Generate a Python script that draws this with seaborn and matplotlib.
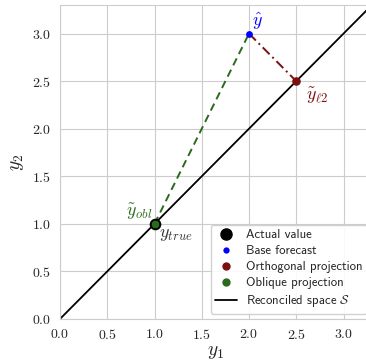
import matplotlib
matplotlib.use("Agg")
import matplotlib.pyplot as plt
import seaborn as sns
from matplotlib.lines import Line2D

# puntos del ejemplo
y_true = [1.0, 1.0]
y_hat = [2.0, 3.0]
y_l2 = [2.5, 2.5]
y_obl = [1.0, 1.0]
space_x = [0.0, 3.5]
space_y = [0.0, 3.5]

ticks = [0.0, 0.5, 1.0, 1.5, 2.0, 2.5, 3.0]
green = "#2a6a1c"
red = "#7a1010"

sns.set_style("whitegrid")
plt.rcParams["font.family"] = ["cmr10"]
plt.rcParams["axes.formatter.use_mathtext"] = True
plt.rcParams["mathtext.fontset"] = "cm"

fig = plt.figure(figsize=(3.66, 3.62), dpi=100)
ax = fig.add_axes([0.164, 0.119, 0.852, 0.867])

# espacio reconciliado y = x
sns.lineplot(x=space_x, y=space_y, color="black", lw=1.3, ax=ax)
# proyeccion oblicua
sns.lineplot(x=[y_obl[0], y_hat[0]], y=[y_obl[1], y_hat[1]], color=green,
             lw=1.4, ax=ax, linestyle=(0, (4, 2.5)))
# proyeccion ortogonal
sns.lineplot(x=[y_hat[0], y_l2[0]], y=[y_hat[1], y_l2[1]], color=red,
             lw=1.4, ax=ax, linestyle=(0, (5, 2, 1, 2)))

sns.scatterplot(x=[y_true[0]], y=[y_true[1]], color="black", s=70, ax=ax, zorder=5, linewidth=0)
sns.scatterplot(x=[y_obl[0]], y=[y_obl[1]], color=green, s=38, ax=ax, zorder=6,
                edgecolor="black", linewidth=0.6)
sns.scatterplot(x=[y_hat[0]], y=[y_hat[1]], color="blue", s=24, ax=ax, zorder=6, linewidth=0)
sns.scatterplot(x=[y_l2[0]], y=[y_l2[1]], color=red, s=38, ax=ax, zorder=6, linewidth=0)

ax.text(y_hat[0] + 0.03, y_hat[1] + 0.08, r"$\hat{y}$", color="blue", fontsize=13)
ax.text(y_l2[0] + 0.1, y_l2[1] - 0.2, r"$\tilde{y}_{\ell 2}$", color=red, fontsize=13)
ax.text(y_obl[0] - 0.3, y_obl[1] + 0.08, r"$\tilde{y}_{obl}$", color=green, fontsize=13)
ax.text(y_true[0] + 0.05, y_true[1] - 0.14, r"$y_{true}$", color="#333333", fontsize=13)

ax.set_xlim(0, 3.3)
ax.set_ylim(0, 3.3)
ax.set_xticks(ticks)
ax.set_yticks(ticks)
ax.tick_params(labelsize=10, pad=3)
ax.set_xlabel(r"$y_1$", fontsize=14, labelpad=1)
ax.set_ylabel(r"$y_2$", fontsize=14, labelpad=4)

handles = [
    Line2D([], [], marker="o", color="black", linestyle="none", markersize=8),
    Line2D([], [], marker="o", color="blue", linestyle="none", markersize=3.5),
    Line2D([], [], marker="o", color=red, linestyle="none", markersize=5),
    Line2D([], [], marker="o", color=green, linestyle="none", markersize=5),
    Line2D([], [], color="black", lw=1.3),
]
labels = ["Actual value", "Base forecast", "Orthogonal projection",
          "Oblique projection", r"Reconciled space $\mathcal{S}$"]
leg = ax.legend(handles, labels, loc="lower right", prop={"family": "cmss10", "size": 9.2},
                framealpha=0.9, borderpad=0.35, labelspacing=0.32, handlelength=1.7,
                handletextpad=0.7, borderaxespad=0.4)

fig.savefig("out.png", dpi=100)
